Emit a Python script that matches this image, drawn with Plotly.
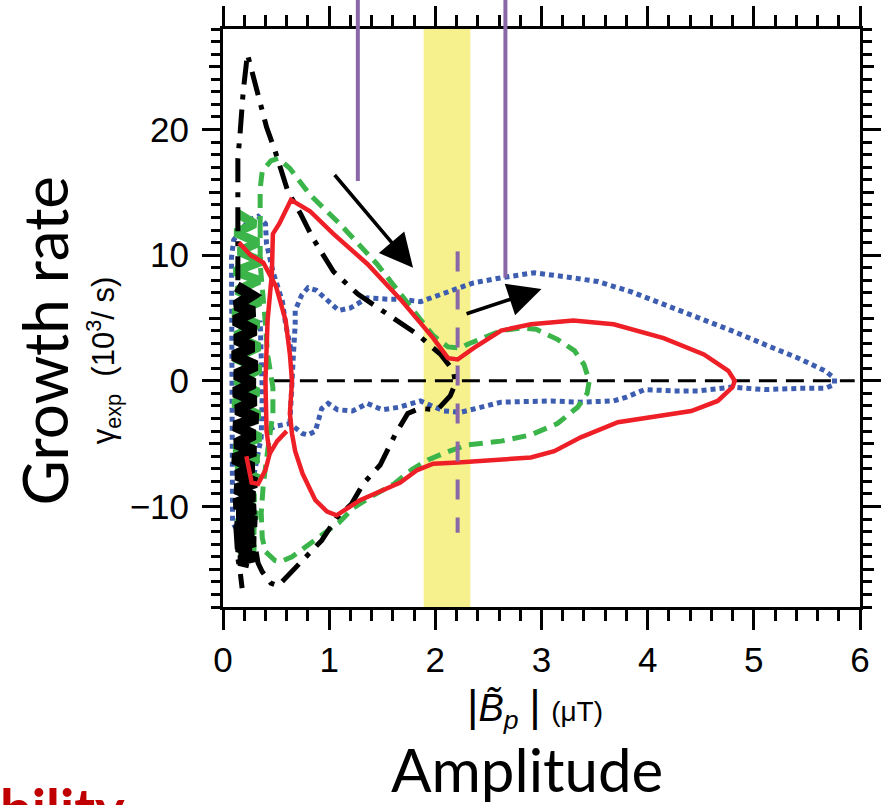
import plotly.graph_objects as go

# ---- data ----
# black dash-dot orbit
blk_x = [0.14, 0.14, 0.13, 0.14, 0.16, 0.19, 0.23, 0.30, 0.41, 0.49, 0.61, 0.73, 0.85, 1.04, 1.27, 1.55, 1.83,
         2.05, 2.17, 2.19, 2.14, 2.02, 1.85, 1.74, 1.62, 1.48, 1.32, 1.21, 1.07, 0.93, 0.80, 0.66, 0.52, 0.45,
         0.37, 0.33, 0.30]
blk_y = [8.0, 12.0, 14.5, 17.7, 19.6, 23.0, 26.0, 23.8, 20.2, 18.3, 15.1, 13.3, 11.3, 8.7, 6.9, 5.3, 3.7,
         2.1, 0.8, -0.2, -1.2, -2.3, -2.2, -2.6, -4.3, -6.7, -8.2, -9.8, -10.9, -12.7, -13.8, -15.1, -16.3, -16.1,
         -15.2, -14.5, -13.0]
blk2_x = [0.12, 0.14, 0.16, 0.18]
blk2_y = [-11.5, -14.1, -15.1, -16.5]

# dense black scatter near zero amplitude
bcl_x = [0.13, 0.27, 0.12, 0.29, 0.11, 0.30, 0.12, 0.28, 0.10, 0.31, 0.12, 0.29, 0.11, 0.30, 0.13, 0.32, 0.11,
         0.29, 0.12, 0.30, 0.10, 0.28, 0.13, 0.31, 0.12, 0.29, 0.11, 0.30, 0.14, 0.31, 0.12, 0.28, 0.15, 0.30,
         0.13, 0.26, 0.16, 0.30, 0.15, 0.25]
bcl_y = [7.5, 6.8, 6.0, 5.5, 4.8, 4.0, 3.3, 2.7, 2.0, 1.2, 0.5, -0.2, -0.9, -1.6, -2.3, -3.0, -3.6,
         -4.3, -5.0, -5.6, -6.2, -6.9, -7.5, -8.1, -8.6, -9.2, -9.8, -10.2, -10.7, -11.2, -11.6, -12.0, -12.4, -12.8,
         -13.2, -13.5, -13.8, -14.0, -14.3, -14.5]

# green dashed orbit
grn_x = [0.35, 0.35, 0.37, 0.45, 0.52, 0.63, 0.82, 1.10, 1.45, 1.74, 1.98, 2.12, 2.24, 2.30, 2.46, 2.62, 2.80,
         2.95, 3.15, 3.31, 3.40, 3.45, 3.43, 3.34, 3.15, 2.90, 2.62, 2.30, 2.10, 1.93, 1.79, 1.61, 1.40, 1.23,
         1.09, 0.87, 0.65, 0.54, 0.49, 0.40, 0.37, 0.36, 0.38, 0.42, 0.44, 0.47, 0.47, 0.42, 0.40, 0.35, 0.35]
grn_y = [12.0, 15.3, 16.7, 17.5, 17.7, 16.9, 14.8, 12.5, 9.3, 6.1, 3.6, 2.7, 2.6, 2.9, 3.5, 4.0, 4.2,
         4.1, 3.3, 2.4, 1.3, 0.0, -1.0, -2.1, -3.4, -4.3, -4.8, -5.1, -5.7, -6.3, -7.0, -8.2, -9.2, -10.1,
         -11.3, -12.7, -14.0, -14.4, -14.3, -13.6, -12.5, -10.5, -8.2, -5.6, -4.5, -2.6, -0.5, 2.1, 4.5, 9.3, 12.0]
gcl_x = [0.14, 0.30, 0.12, 0.33, 0.15, 0.36, 0.11, 0.34, 0.13, 0.35, 0.10, 0.33, 0.12, 0.34, 0.11, 0.35, 0.12,
         0.33, 0.10, 0.34, 0.12, 0.35, 0.11, 0.33, 0.13, 0.34, 0.12, 0.30, 0.14, 0.32, 0.13, 0.30, 0.15, 0.28,
         0.16, 0.31, 0.14]
gcl_y = [13.3, 12.5, 11.8, 11.0, 10.3, 9.5, 8.7, 8.0, 7.2, 6.3, 5.4, 4.5, 3.6, 2.7, 1.8, 0.9, 0.0,
         -0.9, -1.8, -2.7, -3.6, -4.5, -5.4, -6.2, -7.0, -7.8, -8.6, -9.3, -10.0, -10.7, -11.3, -11.9, -12.4, -12.8,
         -13.2, -13.4, -13.6]

# red solid orbit
red_x = [0.15, 0.26, 0.38, 0.50, 0.59, 0.63, 0.65, 0.63, 0.65, 0.68, 0.75, 0.87, 0.98, 1.07, 1.29, 1.55, 1.67,
         1.83, 1.98, 2.21, 2.62, 2.90, 3.12, 3.37, 3.72, 4.00, 4.41, 4.66, 4.80, 4.82, 4.76, 4.53, 4.15, 3.68,
         3.30, 2.90, 2.62, 2.36, 2.21, 2.12, 1.98, 1.67, 1.36, 1.04, 0.82, 0.64, 0.53, 0.47, 0.46, 0.42, 0.40,
         0.41, 0.44, 0.40, 0.33, 0.27, 0.22]
red_y = [11.0, 10.0, 9.4, 7.5, 4.8, 2.1, 0.0, -2.6, -4.2, -5.6, -7.4, -9.5, -10.4, -10.7, -9.5, -8.5, -8.1,
         -7.1, -6.6, -6.5, -6.3, -6.1, -5.6, -4.5, -3.3, -2.9, -2.4, -1.6, -0.5, 0.0, 0.8, 2.1, 3.4, 4.5,
         4.8, 4.5, 4.0, 2.6, 1.7, 1.8, 3.4, 6.5, 9.3, 11.7, 13.5, 14.4, 12.5, 11.7, 8.5, 4.8, 0.0,
         -4.0, -5.8, -7.1, -8.2, -8.1, -6.0]
red2_x = [0.44, 0.51, 0.60]
red2_y = [-5.8, -4.8, -4.0]

# blue dotted orbit
blu_x = [0.63, 0.65, 0.66, 0.68, 0.68, 0.74, 0.80, 0.88, 0.96, 1.09, 1.20, 1.36, 1.55, 1.67, 1.86, 2.00, 2.14,
         2.36, 2.62, 2.93, 3.21, 3.53, 3.84, 4.15, 4.48, 4.79, 5.10, 5.42, 5.67, 5.76, 5.76, 5.67, 5.42, 5.10,
         4.79, 4.48, 4.25, 3.97, 3.80, 3.68, 3.37, 3.09, 2.62, 2.46, 2.24, 2.08, 1.86, 1.66, 1.50, 1.36, 1.22,
         1.08, 0.99, 0.93, 0.87, 0.80, 0.75, 0.63, 0.50, 0.40]
blu_y = [-3.4, -1.0, 1.6, 4.5, 5.6, 6.8, 7.4, 7.2, 6.6, 5.6, 5.8, 6.6, 6.5, 6.5, 6.3, 6.7, 7.1,
         7.8, 8.2, 8.6, 8.3, 7.9, 7.1, 6.1, 5.0, 4.0, 2.9, 1.8, 0.8, 0.2, -0.3, -0.6, -0.6, -0.7,
         -0.5, -0.8, -0.8, -0.7, -1.3, -1.6, -1.7, -1.6, -1.7, -2.0, -2.5, -2.4, -1.6, -2.1, -2.3, -1.8, -2.4,
         -2.3, -1.8, -2.2, -4.0, -4.3, -4.2, -3.4, -3.6, -4.0]
bla_x = [0.64, 0.59, 0.56, 0.47, 0.41, 0.40, 0.33, 0.25, 0.18, 0.10, 0.08, 0.08, 0.08, 0.08, 0.08, 0.09, 0.13,
         0.20, 0.28, 0.31, 0.36, 0.37, 0.36, 0.35]
bla_y = [2.5, 4.5, 6.3, 8.7, 10.9, 12.5, 13.1, 12.8, 12.1, 11.2, 9.8, 5.0, 0.0, -5.0, -9.0, -11.3, -11.8,
         -10.5, -8.0, -6.5, -4.5, -1.0, 2.5, 4.8]

zero_x = [0.47, 5.95]
zero_y = [0, 0]

band = [1.89, 2.33]          # yellow highlight
purple_top = [(1.27, 15.9), (2.66, 8.2)]
purple_dash = (2.21, 10.3, -12.1)
arrows = [((1.04, 16.5), (1.79, 9.0)), ((2.28, 5.3), (3.0, 7.3))]

XR = [0, 6]
YR = [-18, 28]

# pixel helpers for paper placement
L, R, T, B = 222.7, 860.0, 29.0, 607.0


def px(x):
    return (x - L) / (R - L)


def py(y):
    return (B - y) / (B - T)


def yp(v):
    return (v - YR[0]) / (YR[1] - YR[0])


fig = go.Figure()

BLUE = "#3d5db0"
GREEN = "#3bb54a"
RED = "#ee1f26"
PURPLE = "#8a68a8"
DOT = "5px,4px"
DASHDOT = "24px,10px,5px,10px"

fig.add_trace(go.Scatter(x=zero_x, y=zero_y, mode="lines",
                         line=dict(color="black", width=3, dash="18px,9px")))
fig.add_trace(go.Scatter(x=bla_x, y=bla_y, mode="lines",
                         line=dict(color=BLUE, width=5, dash=DOT)))
fig.add_trace(go.Scatter(x=blu_x, y=blu_y, mode="lines",
                         line=dict(color=BLUE, width=5, dash=DOT)))
fig.add_trace(go.Scatter(x=gcl_x, y=gcl_y, mode="lines",
                         line=dict(color=GREEN, width=9)))
fig.add_trace(go.Scatter(x=grn_x, y=grn_y, mode="lines",
                         line=dict(color=GREEN, width=5, dash="14px,8px")))
fig.add_trace(go.Scatter(x=bcl_x, y=bcl_y, mode="lines",
                         line=dict(color="black", width=11)))
fig.add_trace(go.Scatter(x=blk_x, y=blk_y, mode="lines",
                         line=dict(color="black", width=5, dash=DASHDOT)))
fig.add_trace(go.Scatter(x=blk2_x, y=blk2_y, mode="lines",
                         line=dict(color="black", width=5, dash=DASHDOT)))
fig.add_trace(go.Scatter(x=red_x, y=red_y, mode="lines",
                         line=dict(color=RED, width=4.5)))
fig.add_trace(go.Scatter(x=red2_x, y=red2_y, mode="lines",
                         line=dict(color=RED, width=4.5)))
# dummy trace so the overlay axis is drawn
fig.add_trace(go.Scatter(x=[None], y=[None], yaxis="y2", mode="lines"))

shapes = [
    dict(type="rect", xref="x", yref="paper", x0=band[0], x1=band[1], y0=0, y1=1,
         fillcolor="#f6f18c", line=dict(width=0), layer="below"),
    dict(type="line", xref="x", yref="y", x0=purple_dash[0], x1=purple_dash[0],
         y0=purple_dash[1], y1=purple_dash[2], line=dict(color=PURPLE, width=4, dash="20px,18px")),
]
for xv, yv in purple_top:
    shapes.append(dict(type="line", xref="x", yref="paper", x0=xv, x1=xv, y0=yp(yv), y1=py(0),
                       line=dict(color=PURPLE, width=4)))

annotations = []
for (tx, ty), (hx, hy) in arrows:
    annotations.append(dict(x=hx, y=hy, ax=tx, ay=ty, xref="x", yref="y", axref="x", ayref="y",
                            text="", showarrow=True, arrowhead=2, arrowsize=1.9, arrowwidth=3.5,
                            arrowcolor="black"))

annotations += [
    dict(x=px(44), y=py(341), xref="paper", yref="paper", text="Growth rate", textangle=-90,
         showarrow=False, xanchor="center", yanchor="middle",
         font=dict(family="Lato", size=62, color="black")),
    dict(x=px(103), y=py(360), xref="paper", yref="paper",
         text="γ<sub>exp</sub>  (10<sup>3</sup>/ s)", textangle=-90,
         showarrow=False, xanchor="center", yanchor="middle",
         font=dict(family="Liberation Sans", size=31, color="black")),
    dict(x=px(535), y=py(708), xref="paper", yref="paper",
         text="<span style='font-size:44px'>|</span><i>B\u0303</i><sub><i>p</i></sub> "
              "<span style='font-size:44px'>|</span> <span style='font-size:28px'>(μT)</span>",
         showarrow=False, xanchor="center", yanchor="middle",
         font=dict(family="Liberation Sans", size=38, color="black")),
    dict(x=px(527), y=py(769), xref="paper", yref="paper", text="Amplitude",
         showarrow=False, xanchor="center", yanchor="middle",
         font=dict(family="Lato", size=60, color="black")),
    dict(x=px(-2), y=py(772), xref="paper", yref="paper", text="<b>bility</b>",
         showarrow=False, xanchor="left", yanchor="top",
         font=dict(family="Lato", size=56, color="#c00000")),
]

tickfont = dict(family="Liberation Sans", size=35, color="black")

fig.update_layout(
    width=887, height=805,
    margin=dict(l=L, r=887 - R, t=T, b=805 - B, pad=0),
    paper_bgcolor="white", plot_bgcolor="white",
    showlegend=False,
    shapes=shapes,
    annotations=annotations,
    xaxis=dict(range=XR, tickvals=[0, 1, 2, 3, 4, 5, 6], ticks="outside", ticklen=20, tickwidth=3,
               tickcolor="black", showline=True, linewidth=3, linecolor="black", mirror="ticks",
               showgrid=False, zeroline=False, tickfont=tickfont, ticklabelstandoff=0,
               automargin=False,
               minor=dict(dtick=0.2, ticks="outside", ticklen=11, tickwidth=3, tickcolor="black",
                          showgrid=False)),
    yaxis=dict(range=YR, tickvals=[-10, 0, 10, 20], ticks="outside", ticklen=18, tickwidth=3,
               tickcolor="black", showline=True, linewidth=3, linecolor="black", mirror="ticks",
               showgrid=False, zeroline=False, tickfont=tickfont, ticklabelstandoff=6,
               automargin=False,
               minor=dict(dtick=1, ticks="outside", ticklen=9, tickwidth=3, tickcolor="black",
                          showgrid=False)),
    yaxis2=dict(range=YR, overlaying="y", side="left", tickvals=[-15, -5, 5, 15, 25],
                ticks="outside", ticklen=13, tickwidth=3, tickcolor="black", mirror="ticks",
                showticklabels=False, showline=False, showgrid=False, zeroline=False,
                automargin=False),
)

fig.write_html("out.html", config={"displayModeBar": False},
               post_script="document.body.style.margin='0';")
